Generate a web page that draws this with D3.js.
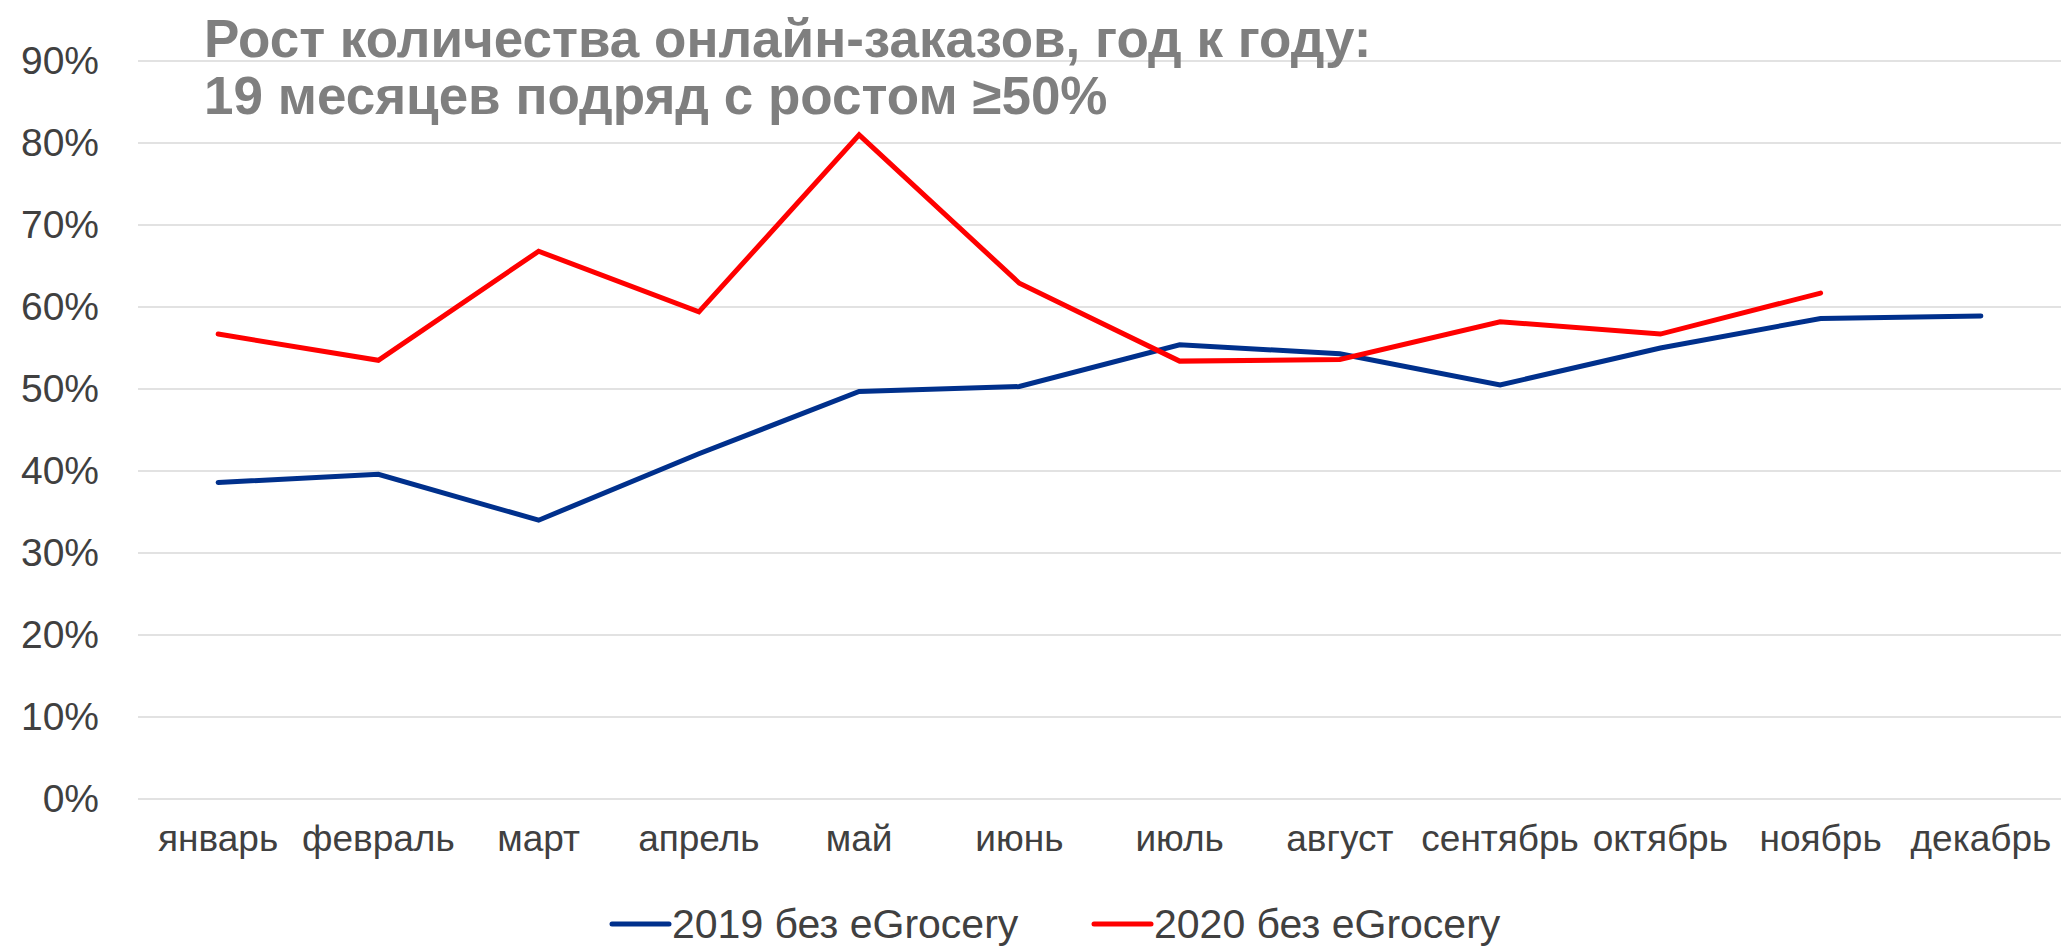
<!DOCTYPE html>
<html>
<head>
<meta charset="utf-8">
<script src="https://cdn.jsdelivr.net/npm/d3@7"></script>
<style>
  body { margin: 0; background: #fff; }
  svg { display: block; font-family: "Liberation Sans", Arial, sans-serif; }
</style>
</head>
<body>
<svg id="chart" width="2061" height="949"></svg>
<script>
const months = ['январь', 'февраль', 'март', 'апрель', 'май', 'июнь',
  'июль', 'август', 'сентябрь', 'октябрь', 'ноябрь', 'декабрь'];
const values2019 = [38.6, 39.6, 34.0, 42.1, 49.7, 50.3, 55.4, 54.3, 50.5, 55.0, 58.6, 58.9];
const values2020 = [56.7, 53.5, 66.8, 59.4, 81.0, 62.9, 53.4, 53.6, 58.2, 56.7, 61.7];
const yTicks = [0, 10, 20, 30, 40, 50, 60, 70, 80, 90];
const seriesNames = ['2019 без eGrocery', '2020 без eGrocery'];
const titleLines = ['Рост количества онлайн-заказов, год к году:', '19 месяцев подряд с ростом ≥50%'];

const colors = ['#00308C', '#FF0000'];
const margin = {top: 61, right: 0, bottom: 150, left: 138};
const W = 2061, H = 949;

const svg = d3.select('#chart');

const x = d3.scaleBand()
  .domain(months)
  .range([margin.left, W - margin.right]);

const y = d3.scaleLinear()
  .domain([0, 90])
  .range([H - margin.bottom, margin.top]);

// gridlines
svg.append('g')
  .selectAll('line')
  .data(yTicks)
  .enter().append('line')
  .attr('x1', margin.left)
  .attr('x2', W - margin.right)
  .attr('y1', d => y(d))
  .attr('y2', d => y(d))
  .attr('stroke', '#d9d9d9')
  .attr('stroke-width', 1.5);

// y axis labels
const yAxis = d3.axisLeft(y)
  .tickValues(yTicks)
  .tickSize(0)
  .tickPadding(0)
  .tickFormat(d => d + '%');

svg.append('g')
  .attr('transform', 'translate(99,0)')
  .call(yAxis)
  .call(g => g.select('.domain').remove())
  .selectAll('text')
    .attr('font-size', 39)
    .attr('font-family', '"Liberation Sans", Arial, sans-serif')
    .attr('fill', '#404040');

// x axis labels
const xAxis = d3.axisBottom(x).tickSize(0).tickPadding(0);
svg.append('g')
  .attr('transform', 'translate(0,' + (H - margin.bottom + 26) + ')')
  .call(xAxis)
  .call(g => g.select('.domain').remove())
  .selectAll('text')
    .attr('font-size', 37)
    .attr('font-family', '"Liberation Sans", Arial, sans-serif')
    .attr('fill', '#404040');

// lines
const line = d3.line()
  .x((d, i) => x(months[i]) + x.bandwidth() / 2)
  .y(d => y(d));

[values2019, values2020].forEach((vals, i) => {
  svg.append('path')
    .datum(vals)
    .attr('d', line)
    .attr('fill', 'none')
    .attr('stroke', colors[i])
    .attr('stroke-width', 5)
    .attr('stroke-linecap', 'round')
    .attr('stroke-linejoin', 'miter');
});

// title
svg.append('text')
  .attr('x', 204)
  .attr('y', 57)
  .attr('font-size', 53)
  .attr('font-weight', 'bold')
  .attr('fill', '#7f7f7f')
  .selectAll('tspan')
  .data(titleLines)
  .enter().append('tspan')
    .attr('x', 204)
    .attr('dy', (d, i) => i === 0 ? 0 : 57)
    .text(d => d);

// legend (raised a few px so descenders stay inside)
const legendX = [612, 1094];
const legend = svg.append('g');
seriesNames.forEach((name, i) => {
  legend.append('line')
    .attr('x1', legendX[i]).attr('x2', legendX[i] + 57)
    .attr('y1', 924).attr('y2', 924)
    .attr('stroke', colors[i])
    .attr('stroke-width', 5)
    .attr('stroke-linecap', 'round');
  legend.append('text')
    .attr('x', legendX[i] + 60)
    .attr('y', 938)
    .attr('font-size', 41)
    .attr('fill', '#404040')
    .text(name);
});
</script>
</body>
</html>
